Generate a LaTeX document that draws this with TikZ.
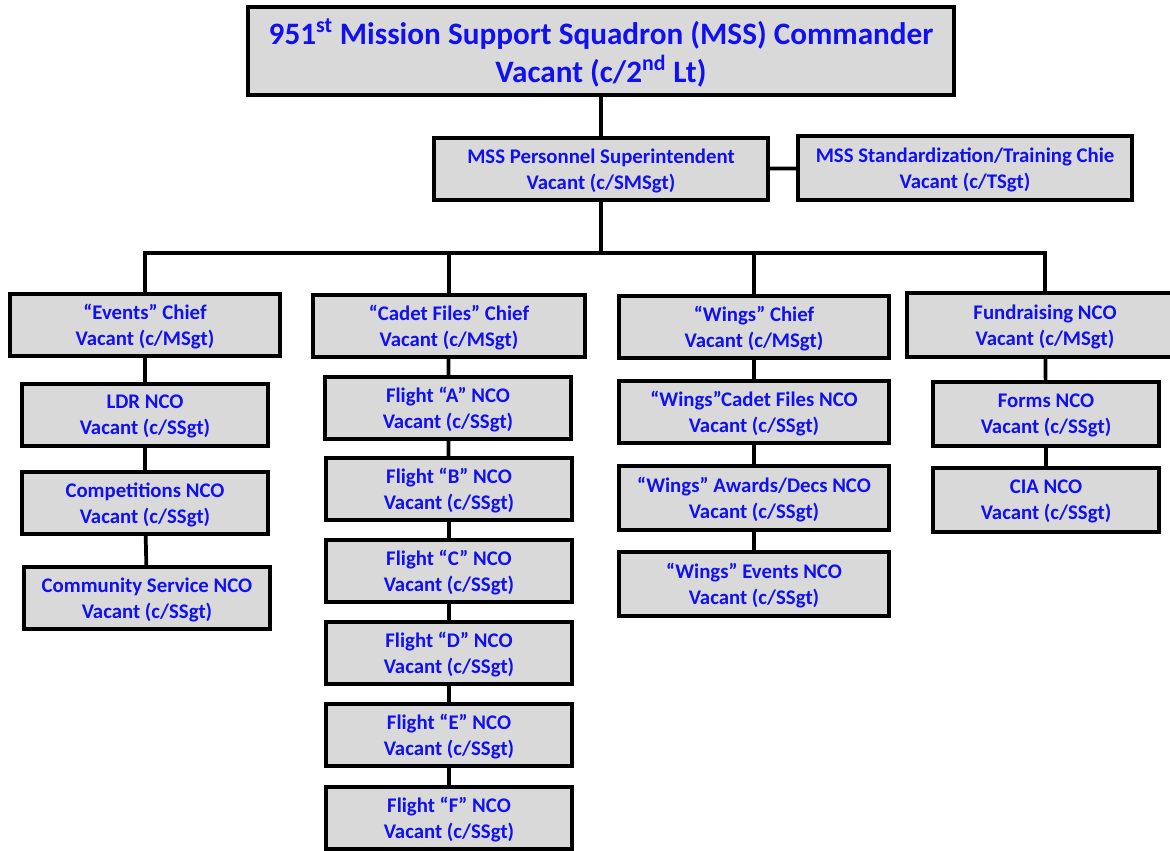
\documentclass[tikz,border=0pt]{standalone}
\usepackage{fontspec}
\setmainfont{Carlito}
\usepackage{tikz}
\definecolor{boxGray}{HTML}{D9D9D9}
\definecolor{nameBlue}{HTML}{1010F0}
\usetikzlibrary{calc}

\tikzset{
  post/.style={draw=black, line width=2.8pt, fill=boxGray, text=nameBlue,
    font=\fontsize{15.6}{19.5}\selectfont\bfseries, align=center,
    inner sep=0pt, minimum height=47pt, text depth=-1pt},
  chief/.style={post, minimum width=203pt},
  nco/.style={post, minimum width=184pt},
  link/.style={draw=black, line width=2.8pt}
}

\begin{document}
\begin{tikzpicture}[x=0.75pt, y=-0.75pt]
  \clip (0,0) rectangle (1170,850);
  \useasboundingbox (0,0) rectangle (1170,850);

  % top of the squadron
  \node[post, minimum width=530pt, minimum height=66pt,
        font=\fontsize{23.4}{28.5}\selectfont\bfseries] (cmdr) at (601,51)
    {951\textsuperscript{st} Mission Support Squadron (MSS) Commander\\Vacant (c/2\textsuperscript{nd} Lt)};
  \node[post, minimum width=250.5pt] (supt) at (601,169) {MSS Personnel Superintendent\\Vacant (c/SMSgt)};
  \node[post, minimum width=251pt, minimum height=48pt] (stdz) at (965,168) {MSS Standardization/Training Chie\\Vacant (c/TSgt)};

  % section chiefs
  \node[chief] (events) at (145,325) {“Events” Chief\\Vacant (c/MSgt)};
  \node[chief, minimum width=204pt] (cadet) at (449,326) {“Cadet Files” Chief\\Vacant (c/MSgt)};
  \node[chief] (wings) at (754,327) {“Wings” Chief\\Vacant (c/MSgt)};
  \node[chief, minimum width=207pt, minimum height=48pt] (fund) at (1045,325) {Fundraising NCO\\Vacant (c/MSgt)};

  % events section
  \node[nco] (ldr) at (145,415) {LDR NCO\\Vacant (c/SSgt)};
  \node[nco] (comp) at (145,503) {Competitions NCO\\Vacant (c/SSgt)};
  \node[nco] (comsvc) at (147,598) {Community Service NCO\\Vacant (c/SSgt)};

  % cadet files section
  \node[nco] (fltA) at (448,408) {Flight “A” NCO\\Vacant (c/SSgt)};
  \node[nco] (fltB) at (449,489) {Flight “B” NCO\\Vacant (c/SSgt)};
  \node[nco] (fltC) at (449,571) {Flight “C” NCO\\Vacant (c/SSgt)};
  \node[nco] (fltD) at (449,653) {Flight “D” NCO\\Vacant (c/SSgt)};
  \node[nco] (fltE) at (449,735) {Flight “E” NCO\\Vacant (c/SSgt)};
  \node[nco] (fltF) at (449,818) {Flight “F” NCO\\Vacant (c/SSgt)};

  % wings section
  \node[chief] (wFiles) at (754,412) {“Wings”Cadet Files NCO\\Vacant (c/SSgt)};
  \node[chief, minimum height=48pt] (wAwards) at (754,498) {“Wings” Awards/Decs NCO\\Vacant (c/SSgt)};
  \node[chief, minimum height=48pt] (wEvents) at (754,584) {“Wings” Events NCO\\Vacant (c/SSgt)};

  % fundraising section
  \node[post, minimum width=169pt, minimum height=48pt] (forms) at (1046,414) {Forms NCO\\Vacant (c/SSgt)};
  \node[post, minimum width=169pt, minimum height=48pt] (cia) at (1046,500) {CIA NCO\\Vacant (c/SSgt)};

  \coordinate (bus) at (601,253);

  % connectors
  \draw[link] (cmdr) -- (supt);
  \draw[link] (supt) -- (stdz);
  \draw[link] (supt) -- (bus);
  \draw[link] (events.north) |- (bus) -| (fund.north);
  \draw[link] (cadet.north) -- (cadet.north |- bus);
  \draw[link] (wings.north) -- (wings.north |- bus);
  \draw[link] (events) -- (ldr);
  \draw[link] (ldr) -- (comp);
  \draw[link] (comp) -- (comsvc);
  \draw[link] (cadet) -- (fltA);
  \draw[link] (fltA) -- (fltB);
  \draw[link] (fltB) -- (fltC);
  \draw[link] (fltC) -- (fltD);
  \draw[link] (fltD) -- (fltE);
  \draw[link] (fltE) -- (fltF);
  \draw[link] (wings) -- (wFiles);
  \draw[link] (wFiles) -- (wAwards);
  \draw[link] (wAwards) -- (wEvents);
  \draw[link] (fund) -- (forms);
  \draw[link] (forms) -- (cia);
\end{tikzpicture}
\end{document}
